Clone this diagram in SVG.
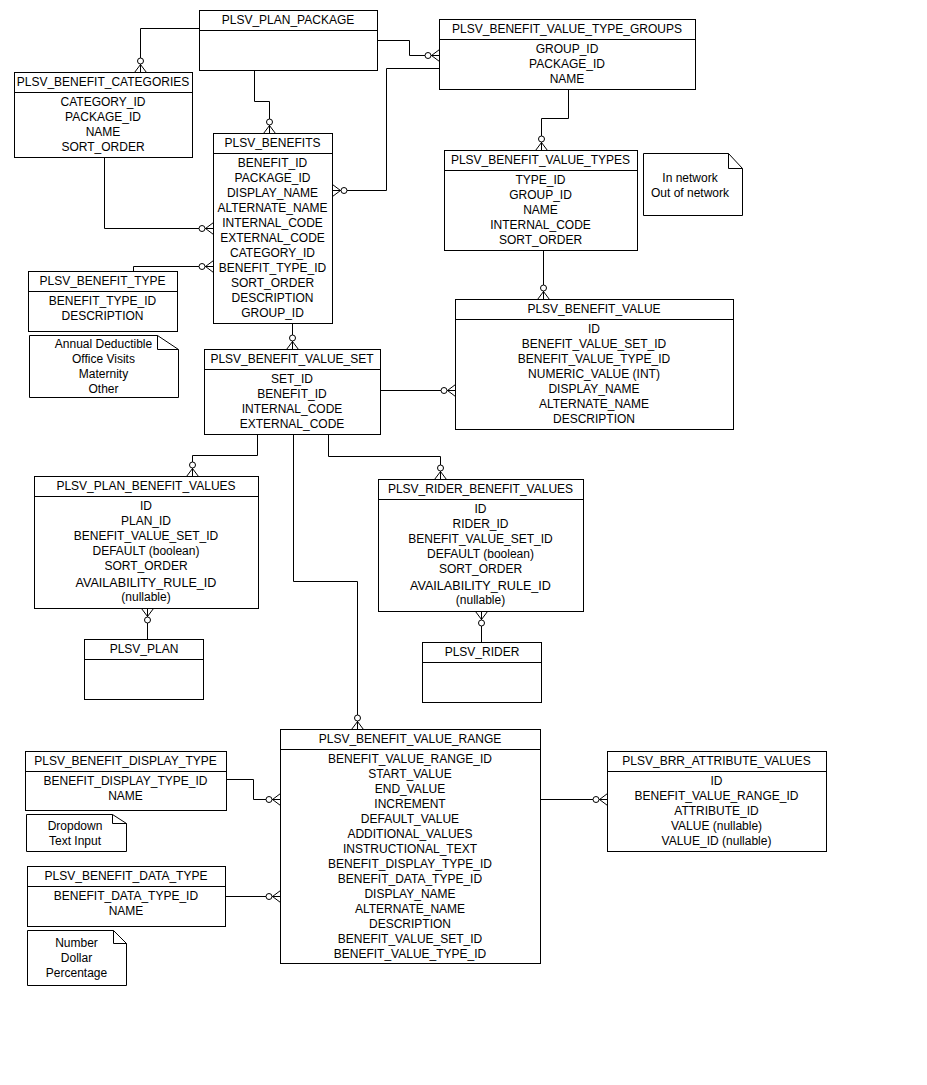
<svg xmlns="http://www.w3.org/2000/svg" width="927" height="1085" viewBox="0 0 927 1085">
<style>
.box{fill:#fff;stroke:#000;stroke-width:1}
.ln{fill:none;stroke:#000;stroke-width:1}
text{font-family:"Liberation Sans",Arial,sans-serif;font-size:12px;fill:#000;text-anchor:middle}
.big{font-size:12.6px}
.cn{fill:none;stroke:#000;stroke-width:1;marker-end:url(#many)}
</style>
<defs>
<marker id="many" markerUnits="userSpaceOnUse" viewBox="-16 -8 17 16" markerWidth="17" markerHeight="16" refX="0" refY="0" orient="auto" overflow="visible">
<path d="M-8,0 L0,-6 M-8,0 L0,6" fill="none" stroke="#000" stroke-width="1"/>
<circle cx="-11.5" cy="0" r="3" fill="#fff" stroke="#000" stroke-width="1"/>
</marker>
</defs>
<rect width="927" height="1085" fill="#fff"/>

<g id="connectors">
<path class="cn" d="M199.5,28.5 H140.5 V72.5"/>
<path class="cn" d="M254.5,70.5 V101.5 H269.5 V133.5"/>
<path class="cn" d="M377.5,40.5 H409.5 V55.5 H439.5"/>
<path class="cn" d="M439.5,68.5 H386.5 V190.5 H332.5"/>
<path class="cn" d="M104.5,157.5 V228.5 H213.5"/>
<path class="cn" d="M133.5,271.5 V266.5 H213.5"/>
<path class="cn" d="M292.5,323.5 V349.5"/>
<path class="cn" d="M568.5,89.5 V118.5 H541.5 V150.5"/>
<path class="cn" d="M543.5,250.5 V299.5"/>
<path class="cn" d="M380.5,390.5 H455.5"/>
<path class="cn" d="M257.5,434.5 V455.5 H192.5 V476.5"/>
<path class="cn" d="M328.5,434.5 V456.5 H440.5 V479.5"/>
<path class="cn" d="M293.5,434.5 V581.5 H357.5 V729.5"/>
<path class="cn" d="M147.5,639.5 V608.5"/>
<path class="cn" d="M481.5,642.5 V611.5"/>
<path class="cn" d="M226.5,779.5 H253.5 V799.5 H280.5"/>
<path class="cn" d="M225.5,896.5 H280.5"/>
<path class="cn" d="M540.5,799.5 H607.5"/>
</g>

<g id="plsv_plan_package">
<rect class="box" x="199.5" y="10.5" width="178" height="60"/>
<path class="ln" d="M199.5,30.5 H377.5"/>
<text x="288" y="24">PLSV_PLAN_PACKAGE</text>
</g>

<g id="plsv_benefit_value_type_groups">
<rect class="box" x="439.5" y="19.5" width="256" height="70"/>
<path class="ln" d="M439.5,39.5 H695.5"/>
<text x="567" y="33">PLSV_BENEFIT_VALUE_TYPE_GROUPS</text>
<text x="567" y="53">GROUP_ID</text>
<text x="567" y="68">PACKAGE_ID</text>
<text x="567" y="83">NAME</text>
</g>

<g id="plsv_benefit_categories">
<rect class="box" x="14.5" y="72.5" width="178" height="85"/>
<path class="ln" d="M14.5,92.5 H192.5"/>
<text x="103" y="86">PLSV_BENEFIT_CATEGORIES</text>
<text x="103" y="106">CATEGORY_ID</text>
<text x="103" y="121">PACKAGE_ID</text>
<text x="103" y="136">NAME</text>
<text x="103" y="151">SORT_ORDER</text>
</g>

<g id="plsv_benefits">
<rect class="box" x="213.5" y="133.5" width="119" height="190"/>
<path class="ln" d="M213.5,153.5 H332.5"/>
<text x="272.5" y="147">PLSV_BENEFITS</text>
<text x="272.5" y="167">BENEFIT_ID</text>
<text x="272.5" y="182">PACKAGE_ID</text>
<text x="272.5" y="197">DISPLAY_NAME</text>
<text x="272.5" y="212">ALTERNATE_NAME</text>
<text x="272.5" y="227">INTERNAL_CODE</text>
<text x="272.5" y="242">EXTERNAL_CODE</text>
<text x="272.5" y="257">CATEGORY_ID</text>
<text x="272.5" y="272">BENEFIT_TYPE_ID</text>
<text x="272.5" y="287">SORT_ORDER</text>
<text x="272.5" y="302">DESCRIPTION</text>
<text x="272.5" y="317">GROUP_ID</text>
</g>

<g id="plsv_benefit_type">
<rect class="box" x="28.5" y="271.5" width="149" height="60"/>
<path class="ln" d="M28.5,291.5 H177.5"/>
<text x="102.5" y="285">PLSV_BENEFIT_TYPE</text>
<text x="102.5" y="305">BENEFIT_TYPE_ID</text>
<text x="102.5" y="320">DESCRIPTION</text>
</g>

<g id="note_benefit_types">
<path class="box" d="M29.5,335.5 H157.5 L178.5,349.5 V397.5 H29.5 Z"/>
<path class="ln" d="M157.5,335.5 V349.5 H178.5"/>
<text x="103.5" y="348">Annual Deductible</text>
<text x="103.5" y="363">Office Visits</text>
<text x="103.5" y="378">Maternity</text>
<text x="103.5" y="393">Other</text>
</g>

<g id="plsv_benefit_value_set">
<rect class="box" x="204.5" y="349.5" width="176" height="85"/>
<path class="ln" d="M204.5,369.5 H380.5"/>
<text x="292" y="363">PLSV_BENEFIT_VALUE_SET</text>
<text x="292" y="383">SET_ID</text>
<text x="292" y="398">BENEFIT_ID</text>
<text x="292" y="413">INTERNAL_CODE</text>
<text x="292" y="428">EXTERNAL_CODE</text>
</g>

<g id="plsv_benefit_value_types">
<rect class="box" x="444.5" y="150.5" width="193" height="100"/>
<path class="ln" d="M444.5,170.5 H637.5"/>
<text x="540.5" y="164">PLSV_BENEFIT_VALUE_TYPES</text>
<text x="540.5" y="184">TYPE_ID</text>
<text x="540.5" y="199">GROUP_ID</text>
<text x="540.5" y="214">NAME</text>
<text x="540.5" y="229">INTERNAL_CODE</text>
<text x="540.5" y="244">SORT_ORDER</text>
</g>

<g id="note_value_types">
<path class="box" d="M643.5,153.5 H728.5 L742.5,168.5 V215.5 H643.5 Z"/>
<path class="ln" d="M728.5,153.5 V168.5 H742.5"/>
<text x="690" y="181.5">In network</text>
<text x="690" y="196.5">Out of network</text>
</g>

<g id="plsv_benefit_value">
<rect class="box" x="455.5" y="299.5" width="278" height="130"/>
<path class="ln" d="M455.5,319.5 H733.5"/>
<text x="594" y="313">PLSV_BENEFIT_VALUE</text>
<text x="594" y="333">ID</text>
<text x="594" y="348">BENEFIT_VALUE_SET_ID</text>
<text x="594" y="363">BENEFIT_VALUE_TYPE_ID</text>
<text x="594" y="378">NUMERIC_VALUE (INT)</text>
<text x="594" y="393">DISPLAY_NAME</text>
<text x="594" y="408">ALTERNATE_NAME</text>
<text x="594" y="423">DESCRIPTION</text>
</g>

<g id="plsv_plan_benefit_values">
<rect class="box" x="34.5" y="476.5" width="224" height="132"/>
<path class="ln" d="M34.5,496.5 H258.5"/>
<text x="146" y="490">PLSV_PLAN_BENEFIT_VALUES</text>
<text x="146" y="510">ID</text>
<text x="146" y="525">PLAN_ID</text>
<text x="146" y="540">BENEFIT_VALUE_SET_ID</text>
<text x="146" y="555">DEFAULT (boolean)</text>
<text x="146" y="570">SORT_ORDER</text>
<text class="big" x="146" y="586.5">AVAILABILITY_RULE_ID</text>
<text x="146" y="601">(nullable)</text>
</g>

<g id="plsv_rider_benefit_values">
<rect class="box" x="378.5" y="479.5" width="205" height="132"/>
<path class="ln" d="M378.5,499.5 H583.5"/>
<text x="480.5" y="493">PLSV_RIDER_BENEFIT_VALUES</text>
<text x="480.5" y="513">ID</text>
<text x="480.5" y="528">RIDER_ID</text>
<text x="480.5" y="543">BENEFIT_VALUE_SET_ID</text>
<text x="480.5" y="558">DEFAULT (boolean)</text>
<text x="480.5" y="573">SORT_ORDER</text>
<text class="big" x="480.5" y="589.5">AVAILABILITY_RULE_ID</text>
<text x="480.5" y="604">(nullable)</text>
</g>

<g id="plsv_plan">
<rect class="box" x="84.5" y="639.5" width="119" height="60"/>
<path class="ln" d="M84.5,659.5 H203.5"/>
<text x="144" y="653">PLSV_PLAN</text>
</g>

<g id="plsv_rider">
<rect class="box" x="422.5" y="642.5" width="119" height="60"/>
<path class="ln" d="M422.5,662.5 H541.5"/>
<text x="482" y="656">PLSV_RIDER</text>
</g>

<g id="plsv_benefit_value_range">
<rect class="box" x="280.5" y="729.5" width="260" height="234"/>
<path class="ln" d="M280.5,749.5 H540.5"/>
<text x="410" y="743">PLSV_BENEFIT_VALUE_RANGE</text>
<text x="410" y="763">BENEFIT_VALUE_RANGE_ID</text>
<text x="410" y="778">START_VALUE</text>
<text x="410" y="793">END_VALUE</text>
<text x="410" y="808">INCREMENT</text>
<text x="410" y="823">DEFAULT_VALUE</text>
<text x="410" y="838">ADDITIONAL_VALUES</text>
<text x="410" y="853">INSTRUCTIONAL_TEXT</text>
<text x="410" y="868">BENEFIT_DISPLAY_TYPE_ID</text>
<text x="410" y="883">BENEFIT_DATA_TYPE_ID</text>
<text x="410" y="898">DISPLAY_NAME</text>
<text x="410" y="913">ALTERNATE_NAME</text>
<text x="410" y="928">DESCRIPTION</text>
<text x="410" y="943">BENEFIT_VALUE_SET_ID</text>
<text x="410" y="958">BENEFIT_VALUE_TYPE_ID</text>
</g>

<g id="plsv_benefit_display_type">
<rect class="box" x="25.5" y="751.5" width="201" height="59"/>
<path class="ln" d="M25.5,771.5 H226.5"/>
<text x="125.5" y="765">PLSV_BENEFIT_DISPLAY_TYPE</text>
<text x="125.5" y="785">BENEFIT_DISPLAY_TYPE_ID</text>
<text x="125.5" y="800">NAME</text>
</g>

<g id="note_display_types">
<path class="box" d="M26.5,814.5 H112.5 L126.5,823.5 V851.5 H26.5 Z"/>
<path class="ln" d="M112.5,814.5 V823.5 H126.5"/>
<text x="75" y="829.5">Dropdown</text>
<text x="75" y="844.5">Text Input</text>
</g>

<g id="plsv_benefit_data_type">
<rect class="box" x="27.5" y="866.5" width="198" height="60"/>
<path class="ln" d="M27.5,886.5 H225.5"/>
<text x="126" y="880">PLSV_BENEFIT_DATA_TYPE</text>
<text x="126" y="900">BENEFIT_DATA_TYPE_ID</text>
<text x="126" y="915">NAME</text>
</g>

<g id="note_data_types">
<path class="box" d="M27.5,930.5 H113.5 L126.5,943.5 V985.5 H27.5 Z"/>
<path class="ln" d="M113.5,930.5 V943.5 H126.5"/>
<text x="76.5" y="947">Number</text>
<text x="76.5" y="962">Dollar</text>
<text x="76.5" y="977">Percentage</text>
</g>

<g id="plsv_brr_attribute_values">
<rect class="box" x="607.5" y="751.5" width="219" height="100"/>
<path class="ln" d="M607.5,771.5 H826.5"/>
<text x="716.5" y="765">PLSV_BRR_ATTRIBUTE_VALUES</text>
<text x="716.5" y="785">ID</text>
<text x="716.5" y="800">BENEFIT_VALUE_RANGE_ID</text>
<text x="716.5" y="815">ATTRIBUTE_ID</text>
<text x="716.5" y="830">VALUE (nullable)</text>
<text x="716.5" y="845">VALUE_ID (nullable)</text>
</g>
</svg>
